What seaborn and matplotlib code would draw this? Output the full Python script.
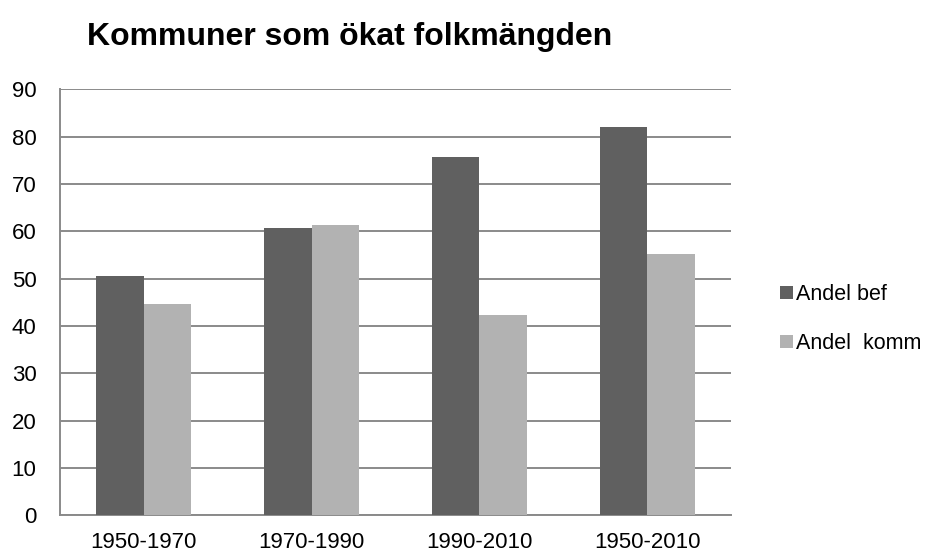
import pandas as pd
import seaborn as sns
import matplotlib.pyplot as plt

# values
periods = ['1950-1970', '1970-1990', '1990-2010', '1950-2010']
andel_bef = [50.5, 60.6, 75.6, 82.1]
andel_komm = [44.7, 61.3, 42.3, 55.1]
series_names = ['Andel bef', 'Andel  komm']

df = pd.DataFrame({
    'period': periods * 2,
    'serie': [series_names[0]] * 4 + [series_names[1]] * 4,
    'andel': andel_bef + andel_komm,
})

sns.set_style('white')
plt.rcParams['font.family'] = ['Liberation Sans', 'DejaVu Sans']
plt.rcParams['text.color'] = 'black'

fig = plt.figure(figsize=(9.28, 5.54), dpi=100)
ax = fig.add_axes([0.0647, 0.0699, 0.7230, 0.7689])

sns.barplot(data=df, x='period', y='andel', hue='serie', order=periods,
            hue_order=series_names, palette=['#606060', '#b2b2b2'],
            width=0.567, gap=0, saturation=1, linewidth=0, ax=ax, zorder=3)

ax.set_xlim(-0.5, 3.5)
ax.set_ylim(0, 90)
ax.set_yticks(range(0, 91, 10))
ax.yaxis.grid(True, color='#8a8a8a', linewidth=1.4, zorder=0)
ax.set_axisbelow(True)
ax.set_xlabel('')
ax.set_ylabel('')

for side in ['top', 'right']:
    ax.spines[side].set_visible(False)
for side in ['left', 'bottom']:
    ax.spines[side].set_color('#8a8a8a')
    ax.spines[side].set_linewidth(1.4)

ax.tick_params(axis='y', length=0, pad=17, labelsize=16, colors='black')
ax.tick_params(axis='x', length=0, pad=12, labelsize=16, colors='black')

fig.text(0.377, 0.933, 'Kommuner som ökat folkmängden', ha='center', va='center',
         fontsize=23, fontweight='bold', color='black')

handles, labels = ax.get_legend_handles_labels()
leg = ax.legend(handles, labels, loc='center left', bbox_to_anchor=(0.829, 0.424),
                bbox_transform=fig.transFigure, frameon=False, fontsize=15.5,
                handlelength=0.6, handleheight=0.6, handletextpad=0.15,
                labelspacing=1.3, borderpad=0)
for t in leg.get_texts():
    t.set_color('black')

fig.savefig('out.png', dpi=100)
